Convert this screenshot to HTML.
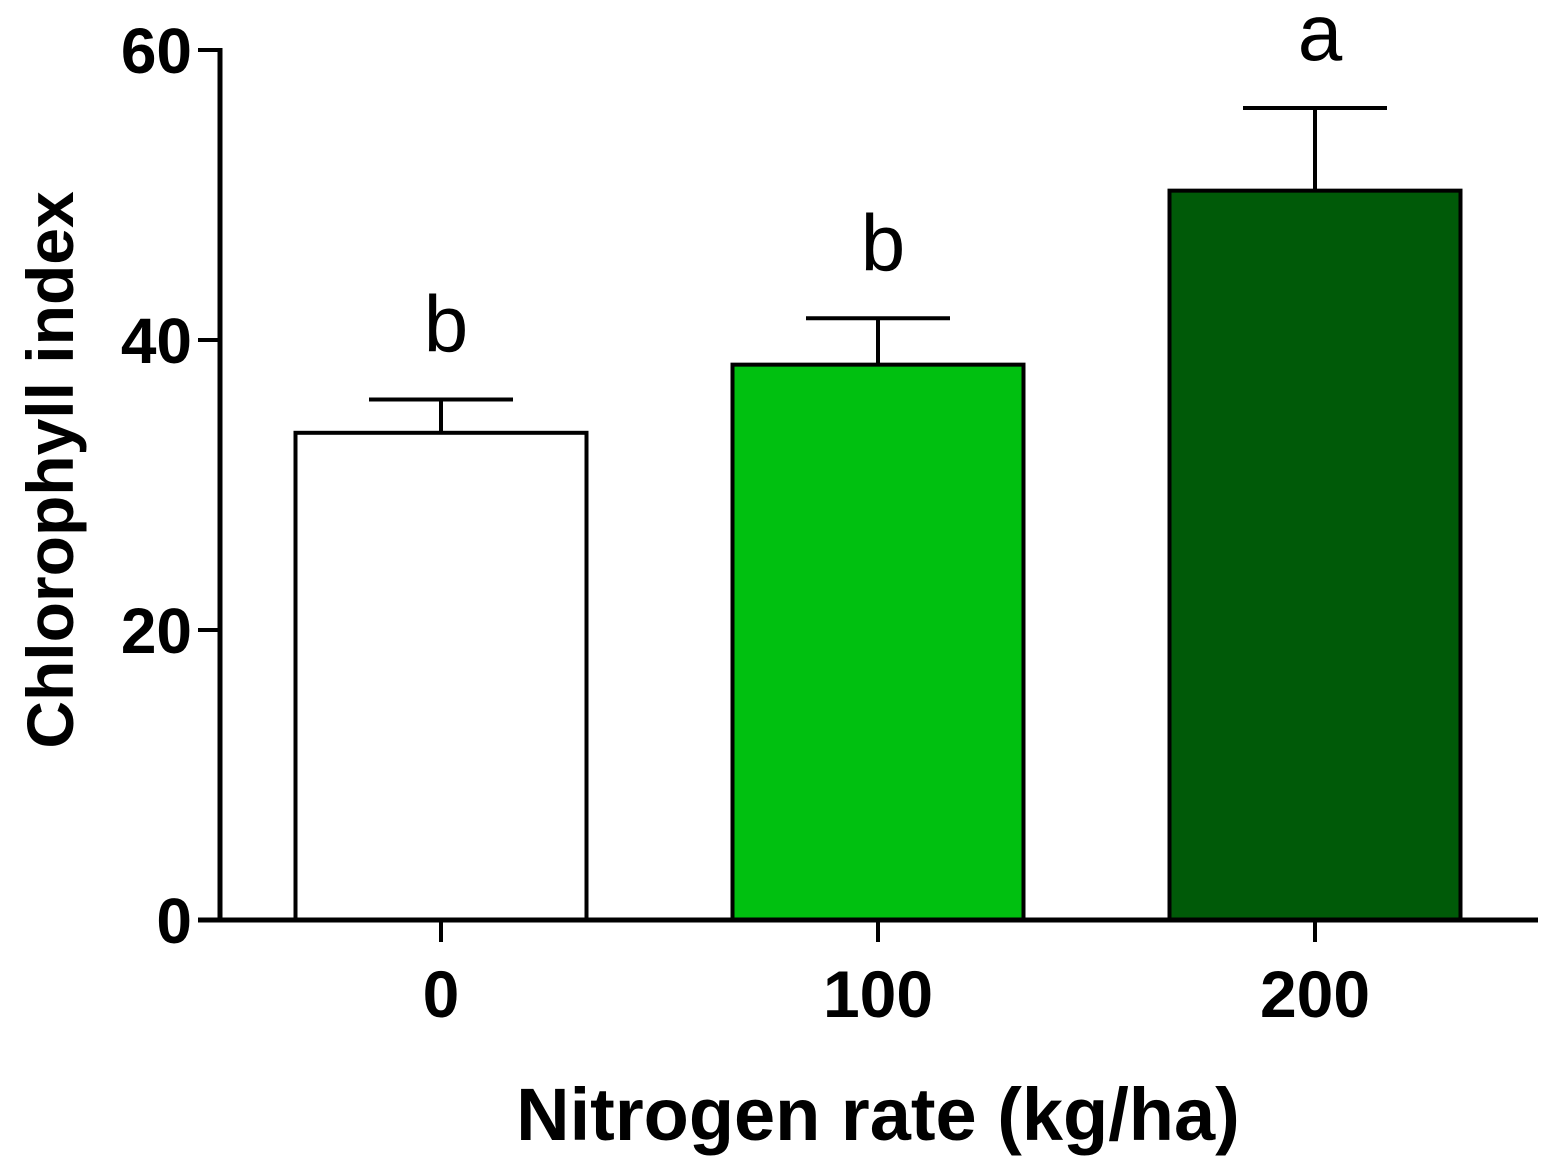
<!DOCTYPE html>
<html><head><meta charset="utf-8"><style>
html,body{margin:0;padding:0;background:#fff;}
svg{display:block;font-family:"Liberation Sans",Arial,sans-serif;}
</style></head><body>
<svg id="chart" width="1558" height="1170" viewBox="0 0 1558 1170"></svg>
<script>
const categories = ["0","100","200"];
const means = [33.6, 38.3, 50.3];
const errors = [2.3, 3.2, 5.7];
const letters = ["b","b","a"];
const yTicks = [0,20,40,60];
const fills = ["#ffffff","#00c010","#005a08"];

const svg = document.getElementById('chart');
const NS = 'http://www.w3.org/2000/svg';
const y0 = 920, yTop = 50, yMax = 60;
const y = v => y0 - (v / yMax) * (y0 - yTop);
const x = i => 441 + i * 437;
const barW = 291, capHalf = 72;
function mk(tag, attrs, parent) {
  const e = document.createElementNS(NS, tag);
  for (const k in attrs) e.setAttribute(k, attrs[k]);
  (parent || svg).appendChild(e);
  return e;
}

categories.forEach((c, i) => {
  const cx = x(i);
  const g = mk('g', {});
  
  
  const eb = mk('path', {d: `M${cx} ${y(means[i])}V${y(means[i] + errors[i])}M${cx - capHalf} ${y(means[i] + errors[i])}H${cx + capHalf}`, stroke: '#000', 'stroke-width': 4, fill: 'none'}, g);
  
  
  const r = mk('rect', {x: cx - barW / 2, y: y(means[i]), width: barW, height: y0 - y(means[i]), fill: fills[i], stroke: '#000', 'stroke-width': 4}, g);
  
  
  const t = mk('text', {x: cx + 5, y: y(means[i] + errors[i]) - 48, 'font-size': 80, 'text-anchor': 'middle'}, g);
  t.textContent = letters[i];
  
  
  const tk = mk('line', {x1: cx, x2: cx, y1: y0, y2: 942, stroke: '#000', 'stroke-width': 4}, g);
  
  
  const tl = mk('text', {x: cx, y: 1017, 'font-size': 66, 'font-weight': 'bold', 'text-anchor': 'middle'}, g);
  tl.textContent = c;
  
  
});

yTicks.forEach(v => {
  const tk = mk('line', {x1: 198, x2: 222, y1: y(v), y2: y(v), stroke: '#000', 'stroke-width': 4});
  
  
  const tl = mk('text', {x: 192, y: y(v) + 23, 'font-size': 64, 'font-weight': 'bold', 'text-anchor': 'end'});
  tl.textContent = v;
  
  
});

const ya = mk('line', {x1: 220, x2: 220, y1: 48, y2: 922, stroke: '#000', 'stroke-width': 5});


const xa = mk('line', {x1: 198, x2: 1538, y1: y0, y2: y0, stroke: '#000', 'stroke-width': 5});



const xt = mk('text', {x: 878, y: 1140, 'font-size': 74, 'font-weight': 'bold', 'text-anchor': 'middle'});
xt.textContent = 'Nitrogen rate (kg/ha)';


const yt = mk('text', {x: 0, y: 0, 'font-size': 66, 'font-weight': 'bold', 'text-anchor': 'middle', transform: 'translate(73,470) rotate(-90)'});
yt.textContent = 'Chlorophyll index';


</script>
</body></html>
